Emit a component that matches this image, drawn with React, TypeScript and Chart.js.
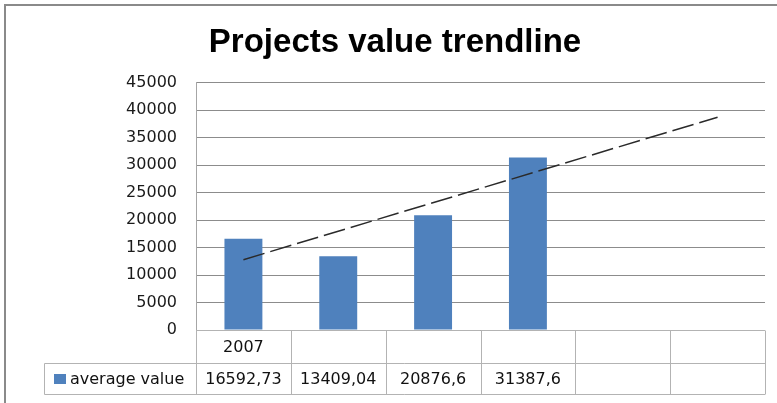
import { useEffect, useRef } from 'react';
import { Chart, registerables } from 'chart.js';

Chart.register(...registerables);

const titleText = 'Projects value trendline';
const categories = ['2007', '', '', '', '', ''];
const seriesLabel = 'average value';
const averageValue: (number | null)[] = [16592.73, 13409.04, 20876.6, 31387.6, null, null];
// linear trendline (start and end points)
const trendValues: (number | null)[] = [12790, null, null, null, null, 38710];
const yMin = 0;
const yMax = 45000;
const yStep = 5000;

const BAR_COLOR = '#4f81bd';
const TABLE_LINE = '#b3b3b3';
const TEXT_FONT = "16px 'DejaVu Sans', sans-serif";

const fmt = (v: number | null) => (v == null ? '' : String(v).replace('.', ','));

const decorPlugin = {
  id: 'decor',
  beforeDraw(chart: any) {
    const { ctx, width, height } = chart;
    ctx.save();
    ctx.fillStyle = '#ffffff';
    ctx.fillRect(0, 0, width, height);
    ctx.strokeStyle = '#8a8a8a';
    ctx.lineWidth = 2;
    ctx.beginPath();
    ctx.moveTo(5, height);
    ctx.lineTo(5, 5);
    ctx.lineTo(width, 5);
    ctx.stroke();
    ctx.restore();
  },
  afterDraw(chart: any) {
    const { ctx, chartArea } = chart;
    const n = categories.length;
    const left = chartArea.left;
    const right = chartArea.right;
    const colW = (right - left) / n;
    const top = Math.round(chartArea.bottom) + 0.5;
    const row1 = top + 33;
    const row2 = row1 + 31;
    const legendLeft = 44.5;

    ctx.save();
    ctx.strokeStyle = TABLE_LINE;
    ctx.lineWidth = 1;
    ctx.beginPath();
    ctx.moveTo(left, top);
    ctx.lineTo(right, top);
    ctx.moveTo(legendLeft, row1);
    ctx.lineTo(right, row1);
    ctx.moveTo(legendLeft, row2);
    ctx.lineTo(right, row2);
    for (let i = 0; i <= n; i++) {
      const x = Math.round(left + i * colW) + 0.5;
      ctx.moveTo(x, top);
      ctx.lineTo(x, row2);
    }
    ctx.moveTo(legendLeft, row1);
    ctx.lineTo(legendLeft, row2);
    ctx.stroke();

    ctx.fillStyle = '#111111';
    ctx.font = TEXT_FONT;
    ctx.textAlign = 'center';
    ctx.textBaseline = 'middle';
    for (let i = 0; i < n; i++) {
      const cx = left + (i + 0.5) * colW;
      ctx.fillText(categories[i], cx, (top + row1) / 2 + 1);
      ctx.fillText(fmt(averageValue[i]), cx, (row1 + row2) / 2 + 1);
    }
    ctx.fillStyle = BAR_COLOR;
    ctx.fillRect(54, (row1 + row2) / 2 - 5, 12, 10);
    ctx.fillStyle = '#111111';
    ctx.textAlign = 'left';
    ctx.fillText(seriesLabel, 70, (row1 + row2) / 2 + 1);
    ctx.restore();
  },
};

export default function App() {
  const ref = useRef<HTMLCanvasElement | null>(null);

  useEffect(() => {
    if (!ref.current) return;
    const chart = new Chart(ref.current, {
      type: 'bar',
      data: {
        labels: categories,
        datasets: [
          {
            type: 'bar',
            label: seriesLabel,
            data: averageValue,
            backgroundColor: BAR_COLOR,
            borderWidth: 0,
            barPercentage: 0.4,
            categoryPercentage: 1,
            order: 2,
          },
          {
            type: 'line',
            label: 'trend',
            data: trendValues,
            borderColor: '#2a2a2a',
            borderWidth: 1.5,
            borderDash: [22, 6],
            pointRadius: 0,
            spanGaps: true,
            tension: 0,
            fill: false,
            order: 1,
          } as any,
        ],
      },
      options: {
        responsive: false,
        animation: false,
        layout: { padding: { left: 25, right: 12, top: 0, bottom: 0 } },
        plugins: {
          legend: { display: false },
          tooltip: { enabled: false },
          title: {
            display: true,
            text: titleText,
            color: '#000000',
            font: { family: "'Liberation Sans', Arial, sans-serif", size: 33, weight: 'bold' },
            padding: { top: 23, bottom: 20 },
          },
        },
        scales: {
          x: {
            ticks: { display: false },
            grid: { display: false },
            border: { display: false },
            afterFit: (s: any) => {
              s.height = 73;
            },
          },
          y: {
            min: yMin,
            max: yMax,
            ticks: {
              stepSize: yStep,
              color: '#1a1a1a',
              padding: 19,
              font: { family: "'DejaVu Sans', sans-serif", size: 16 },
              callback: (v: any) => String(v),
            },
            grid: { color: '#8c8c8c', drawTicks: false, lineWidth: 1 },
            border: { color: '#a6a6a6' },
            afterFit: (s: any) => {
              s.width = 171;
            },
          },
        },
      },
      plugins: [decorPlugin],
    });
    return () => chart.destroy();
  }, []);

  return (
    <div style={{ position: 'absolute', left: 0, top: 0, width: 777, height: 403 }}>
      <canvas ref={ref} width={777} height={403} style={{ display: 'block' }} />
    </div>
  );
}
